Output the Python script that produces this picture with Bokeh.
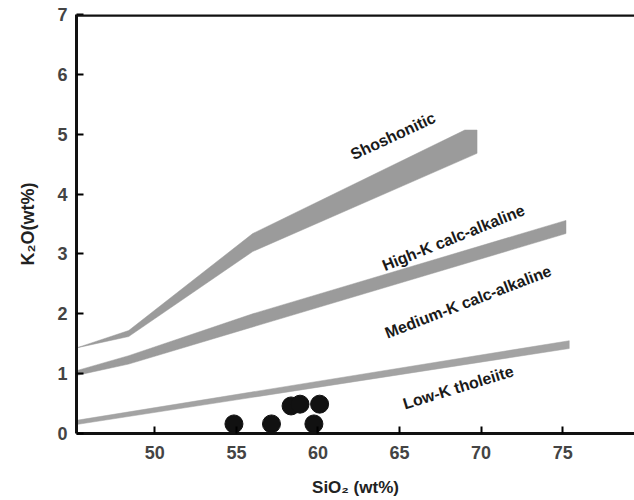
from bokeh.plotting import figure
from bokeh.models import Range1d, FixedTicker, Span
from bokeh.core.properties import value
from bokeh.embed import file_html
from bokeh.resources import INLINE
import math

# Sample points (SiO2 wt%, K2O wt%)
sio2 = [54.85, 57.15, 58.35, 58.9, 59.75, 60.1]
k2o = [0.16, 0.16, 0.46, 0.49, 0.16, 0.49]

# Series boundary bands (upper edge left->right, lower edge right->left)
shosh_x = [45.2, 48.4, 56.0, 69.0, 69.75, 69.75, 56.0, 48.4]
shosh_y = [1.43, 1.72, 3.34, 5.07, 5.07, 4.68, 3.04, 1.62]

highk_x = [45.2, 48.4, 56.0, 75.2, 75.2, 56.0, 48.4, 45.2]
highk_y = [1.05, 1.30, 2.00, 3.56, 3.34, 1.78, 1.16, 0.97]

lowk_x = [45.2, 75.4, 75.4, 45.2]
lowk_y = [0.22, 1.55, 1.42, 0.15]

x_ticks = [50, 55, 60, 65, 70, 75]
y_ticks = [0, 1, 2, 3, 4, 5, 6, 7]

labels = ["Shoshonitic", "High-K calc-alkaline", "Medium-K calc-alkaline", "Low-K tholeiite"]
label_x = [64.6, 68.3, 69.2, 68.6]
label_y = [4.97, 3.27, 2.2, 0.77]
label_angle_deg = [25, 22, 21, 17]

FONT = "Liberation Sans"

p = figure(width=634, height=500, output_backend="svg", toolbar_location=None,
           x_range=Range1d(45.2, 79.4), y_range=Range1d(0, 7),
           min_border_left=76, min_border_right=0, min_border_top=14, min_border_bottom=67)
p.outline_line_color = None
p.grid.visible = False
p.background_fill_color = "white"

band_color = "#9b9b9b"
p.patch(shosh_x, shosh_y, fill_color=band_color, line_color=band_color, line_width=0.5)
p.patch(highk_x, highk_y, fill_color=band_color, line_color=band_color, line_width=0.5)
p.patch(lowk_x, lowk_y, fill_color="#a3a3a3", line_color="#a3a3a3", line_width=0.5)

p.scatter(sio2, k2o, size=18, fill_color="#111111", line_color="#111111")

p.text(x=label_x, y=label_y, text=labels,
       angle=[math.radians(a) for a in label_angle_deg],
       text_font=value(FONT), text_font_style="bold", text_font_size="16px",
       text_align="center", text_baseline="middle", text_color="#1a1a1a")

# top border of the frame
p.add_layout(Span(location=7, dimension="width", line_color="#111111", line_width=4.5))

# axes
xa = p.xaxis[0]
xa.ticker = FixedTicker(ticks=x_ticks)
xa.axis_line_width = 3
xa.axis_line_color = "#111111"
xa.major_tick_in = 7
xa.major_tick_out = 0
xa.major_tick_line_width = 2
xa.minor_tick_line_color = None
xa.major_label_text_font = FONT
xa.major_label_text_font_style = "bold"
xa.major_label_text_font_size = "18px"
xa.major_label_standoff = 12
xa.axis_label = "SiO₂ (wt%)"
xa.axis_label_text_font = FONT
xa.axis_label_text_font_style = "bold"
xa.axis_label_text_font_size = "17px"
xa.axis_label_text_color = "#222222"
xa.axis_label_standoff = 16

ya = p.yaxis[0]
ya.ticker = FixedTicker(ticks=y_ticks)
ya.axis_line_width = 3
ya.axis_line_color = "#111111"
ya.major_tick_in = 7
ya.major_tick_out = 0
ya.major_tick_line_width = 2
ya.minor_tick_line_color = None
ya.major_label_text_font = FONT
ya.major_label_text_font_style = "bold"
ya.major_label_text_font_size = "18px"
ya.major_label_standoff = 9
ya.axis_label = "K₂O(wt%)"
ya.axis_label_text_font = FONT
ya.axis_label_text_font_style = "bold"
ya.axis_label_text_font_size = "18px"
ya.axis_label_text_color = "#222222"
ya.axis_label_standoff = 16

open("out.html", "w").write(file_html(p, INLINE))
